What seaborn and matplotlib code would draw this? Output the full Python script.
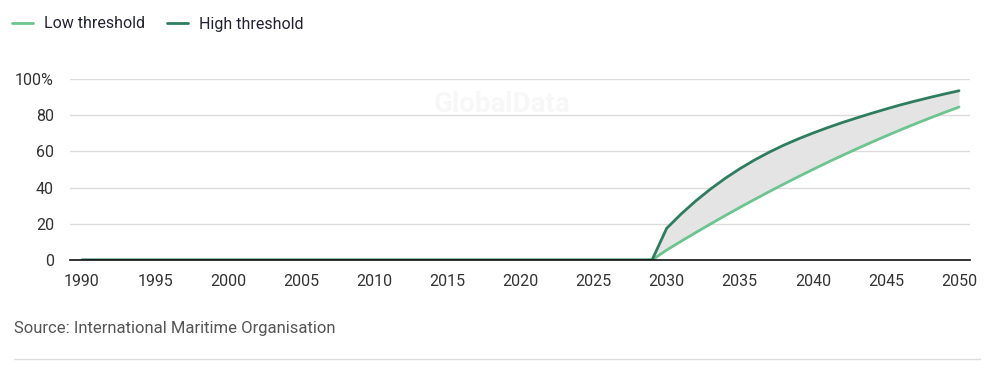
import numpy as np
import pandas as pd
import matplotlib.pyplot as plt
import seaborn as sns
from matplotlib.lines import Line2D

# --- Datos ---
years = list(range(1990, 2051))
low_tail = [0, 5.5, 10.4, 15.2, 19.9, 24.5, 29, 33.4, 37.7, 41.9, 46, 50, 53.9,
            57.7, 61.4, 65, 68.5, 71.9, 75.2, 78.4, 81.5, 84.5]
high_tail = [0, 17.5, 25.5, 32.7, 39.2, 45.1, 50.4, 55.2, 59.5, 63.4, 66.9, 70.1,
             73.1, 75.9, 78.5, 81, 83.4, 85.7, 87.8, 89.8, 91.7, 93.5]
low_threshold = [0] * (len(years) - len(low_tail)) + low_tail
high_threshold = [0] * (len(years) - len(high_tail)) + high_tail
series_names = ['Low threshold', 'High threshold']
series_colors = ['#6cc48f', '#2f7d5f']
y_ticks = [0, 20, 40, 60, 80, 100]
y_labels = ['0', '20', '40', '60', '80', '100%']
x_ticks = list(range(1990, 2051, 5))
source = 'Source: International Maritime Organisation'

df = pd.DataFrame({'year': years * 2,
                   'value': low_threshold + high_threshold,
                   'serie': [series_names[0]] * len(years) + [series_names[1]] * len(years)})

# --- Estilo ---
sns.set_theme(style='white')
plt.rcParams['font.family'] = ['Roboto', 'DejaVu Sans']

fig = plt.figure(figsize=(9.84, 3.68), dpi=100)
ax = fig.add_axes([70 / 984, 1 - 260 / 368, 900 / 984, 181 / 368])

ax.fill_between(years, low_threshold, high_threshold, color='#e4e4e4', zorder=1, linewidth=0)
sns.lineplot(data=df, x='year', y='value', hue='serie', palette=series_colors,
             hue_order=series_names, linewidth=2, ax=ax, legend=False, zorder=3)

ax.set_xlim(1990 - 12 / 14.617, 2050 + 11 / 14.617)
ax.set_ylim(0, 100)
ax.set_yticks(y_ticks)
ax.set_yticklabels(y_labels)
ax.set_xticks(x_ticks)
ax.set_xlabel('')
ax.set_ylabel('')
ax.grid(axis='y', color='#dcdcdc', linewidth=1)
ax.set_axisbelow(True)
for s in ['top', 'right', 'left']:
    ax.spines[s].set_visible(False)
ax.spines['bottom'].set_color('#111111')
ax.spines['bottom'].set_linewidth(1.2)
ax.spines['bottom'].set_zorder(4)
ax.tick_params(axis='both', length=0, labelsize=11.5, colors='#333333')
ax.tick_params(axis='y', pad=11.5)
ax.tick_params(axis='x', pad=10)

# Marca de agua
ax.text(0.48, 0.86, 'GlobalData', transform=ax.transAxes, ha='center', va='center',
        fontsize=20, fontweight='bold', color='#f7f7f7', zorder=0)

# Leyenda
handles = [Line2D([0], [0], color=c, linewidth=2) for c in series_colors]
fig.legend(handles, series_names, loc='center left', bbox_to_anchor=(12 / 984, 1 - 24 / 368),
           ncol=2, frameon=False, fontsize=11.5, handlelength=1.3,
           handletextpad=0.7, columnspacing=1.4, labelcolor='#222233',
           borderaxespad=0, borderpad=0.0)

fig.text(14 / 984, 1 - 329 / 368, source, fontsize=12, color='#555555', va='center')
fig.add_artist(Line2D([14 / 984, 980 / 984], [1 - 359 / 368, 1 - 359 / 368],
                      color='#dddddd', linewidth=1))

fig.savefig('out.png', dpi=100)
